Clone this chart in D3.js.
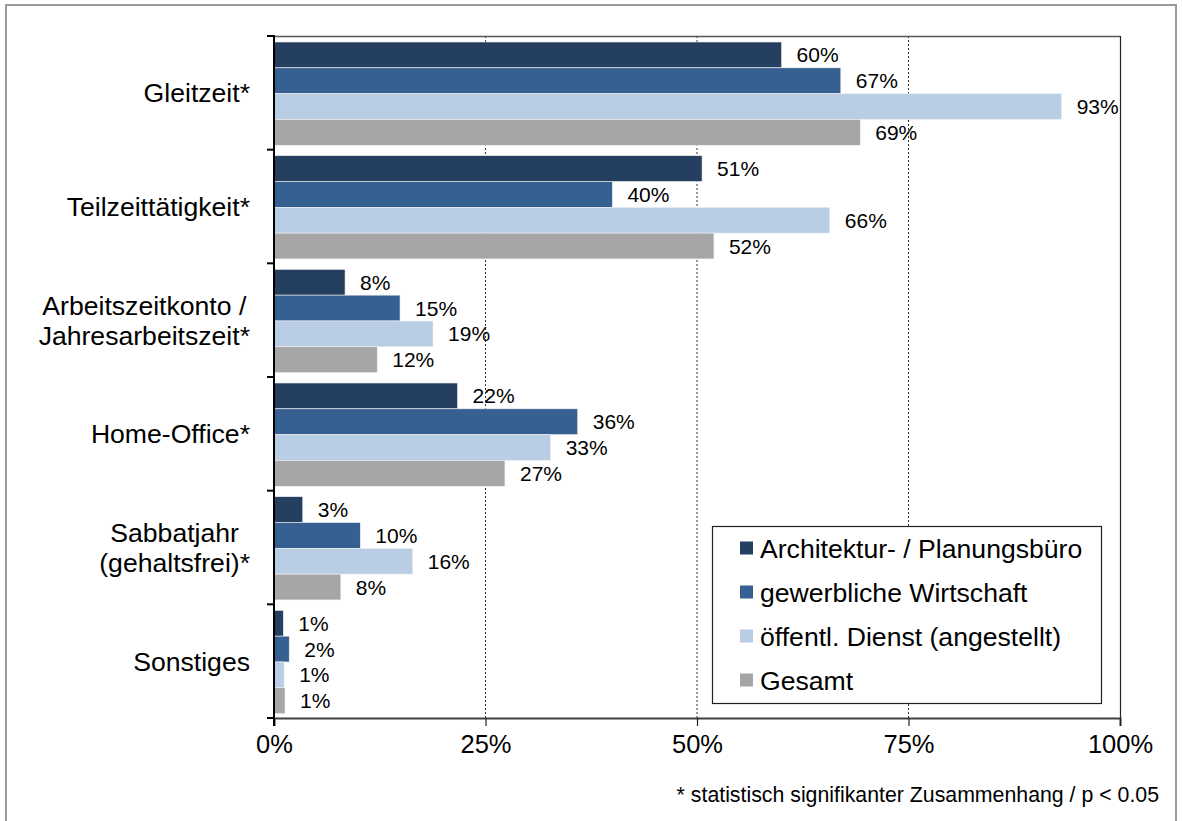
<!DOCTYPE html>
<html>
<head>
<meta charset="utf-8">
<script src="https://cdn.jsdelivr.net/npm/d3@7"></script>
<style>
  html, body { margin: 0; padding: 0; background: #fff; }
  svg { display: block; font-family: "Liberation Sans", Arial, sans-serif; }
</style>
</head>
<body>
<svg id="chart" width="1182" height="821"></svg>
<script>
// ---- data ----
const categories = [
  ["Gleitzeit*"],
  ["Teilzeittätigkeit*"],
  ["Arbeitszeitkonto /", "Jahresarbeitszeit*"],
  ["Home-Office*"],
  ["Sabbatjahr", "(gehaltsfrei)*"],
  ["Sonstiges"]
];
const seriesNames = [
  "Architektur- / Planungsbüro",
  "gewerbliche Wirtschaft",
  "öffentl. Dienst (angestellt)",
  "Gesamt"
];
const architektur = [60.0, 50.6, 8.4, 21.7, 3.4, 1.1];
const gewerblich  = [67.0, 40.0, 14.9, 35.9, 10.2, 1.8];
const oeffentlich = [93.1, 65.7, 18.8, 32.7, 16.4, 1.2];
const gesamt      = [69.3, 52.0, 12.2, 27.3, 7.9, 1.3];
const xTicks = [0, 25, 50, 75, 100];
const footnote = "* statistisch signifikanter Zusammenhang / p < 0.05";

const seriesValues = [architektur, gewerblich, oeffentlich, gesamt];
const colors = ["#253F60", "#366092", "#B9CDE5", "#A6A6A6"];

(function () {
// ---- layout ----
const svg = d3.select("#chart");
const pLeft = 274, pRight = 1120, pTop = 36, pBottom = 718;

// outer frame
svg.append("rect")
  .attr("x", 6).attr("y", 5).attr("width", 1170).attr("height", 830)
  .attr("fill", "#fff").attr("stroke", "#9a9a9a").attr("stroke-width", 2);

const x = d3.scaleLinear().domain([0, 100]).range([pLeft, pRight]);
const catIdx = categories.map((d, i) => i);
const y0 = d3.scaleBand().domain(catIdx).range([pTop, pBottom]).padding(0);
const bw = y0.bandwidth();
const y1 = d3.scaleBand().domain(d3.range(seriesNames.length)).range([6, bw - 4.4]).padding(0);

// gridlines
svg.append("g").selectAll("line")
  .data(xTicks.filter(t => t > 0 && t < 100))
  .join("line")
  .attr("x1", d => x(d)).attr("x2", d => x(d))
  .attr("y1", pTop).attr("y2", pBottom)
  .attr("stroke", "#333").attr("stroke-width", 1)
  .attr("stroke-dasharray", "2,2");

// plot border top & right
svg.append("line").attr("x1", pLeft).attr("x2", pRight).attr("y1", pTop + 0.5).attr("y2", pTop + 0.5)
  .attr("stroke", "#555").attr("stroke-width", 1.5);
svg.append("line").attr("x1", pRight + 0.5).attr("x2", pRight + 0.5).attr("y1", pTop).attr("y2", pBottom)
  .attr("stroke", "#222").attr("stroke-width", 1.2);

// bars
const rows = [];
catIdx.forEach(ci => seriesValues.forEach((arr, si) => rows.push({ ci, si, v: arr[ci] })));

svg.append("g").selectAll("rect")
  .data(rows)
  .join("rect")
  .attr("x", x(0))
  .attr("y", d => y0(d.ci) + y1(d.si))
  .attr("width", d => x(d.v) - x(0))
  .attr("height", y1.bandwidth())
  .attr("fill", d => colors[d.si])
  .attr("stroke", "#f2f2f2").attr("stroke-width", 0.6);

// data labels
const fmt = d3.format(".0f");
svg.append("g").selectAll("text")
  .data(rows)
  .join("text")
  .attr("x", d => x(d.v) + 15)
  .attr("y", d => y0(d.ci) + y1(d.si) + y1.bandwidth() / 2)
  .attr("dy", "0.36em")
  .attr("font-size", 21)
  .attr("fill", "#000")
  .text(d => fmt(d.v) + "%");

// x axis
const xAxis = d3.axisBottom(x).tickValues(xTicks).tickFormat(d => d + "%").tickSize(8).tickPadding(9);
const gx = svg.append("g").attr("transform", `translate(0,${pBottom})`).call(xAxis);
gx.select(".domain").attr("stroke", "#404040").attr("stroke-width", 2);
gx.selectAll(".tick line").attr("stroke", "#222").attr("stroke-width", 1.2);
gx.selectAll(".tick text").attr("font-size", 25.5).attr("fill", "#000")
  .attr("font-family", "Liberation Sans, Arial, sans-serif");

// y axis (ticks at band boundaries)
svg.append("line").attr("x1", pLeft).attr("x2", pLeft).attr("y1", pTop - 1).attr("y2", pBottom + 8)
  .attr("stroke", "#000").attr("stroke-width", 2);
const boundaries = catIdx.map(i => y0(i)).concat([pBottom]);
svg.append("g").selectAll("line")
  .data(boundaries)
  .join("line")
  .attr("x1", pLeft - 7).attr("x2", pLeft)
  .attr("y1", d => d).attr("y2", d => d)
  .attr("stroke", "#000").attr("stroke-width", 2);

// category labels: block right-aligned, lines centered within block
const catG = svg.append("g");
categories.forEach((lines, i) => {
  const cy = y0(i) + bw / 2;
  const lh = 30;
  const g = catG.append("g");
  const t = g.append("text").attr("font-size", 26.6).attr("fill", "#000").attr("text-anchor", "middle");
  lines.forEach((ln, k) => {
    t.append("tspan").attr("x", 0)
      .attr("y", cy + (k - (lines.length - 1) / 2) * lh)
      .attr("dy", "0.36em")
      .text(ln);
  });
  const w = t.node().getBBox().width;
  g.attr("transform", `translate(${250 - w / 2},0)`);
});

// legend
const lg = svg.append("g");
lg.append("rect").attr("x", 712.5).attr("y", 526.5).attr("width", 389).attr("height", 177)
  .attr("fill", "#fff").attr("stroke", "#222").attr("stroke-width", 1.2);
seriesNames.forEach((name, i) => {
  const cy = 548 + i * 44;
  lg.append("rect").attr("x", 740).attr("y", cy - 6.5).attr("width", 13).attr("height", 13)
    .attr("fill", colors[i]);
  lg.append("text").attr("x", 760).attr("y", cy).attr("dy", "0.36em")
    .attr("font-size", 26.6).attr("fill", "#000").text(name);
});

// footnote
svg.append("text").attr("x", 1159).attr("y", 802).attr("text-anchor", "end")
  .attr("font-size", 21.3).attr("fill", "#000").text(footnote);
})();
</script>
</body>
</html>
